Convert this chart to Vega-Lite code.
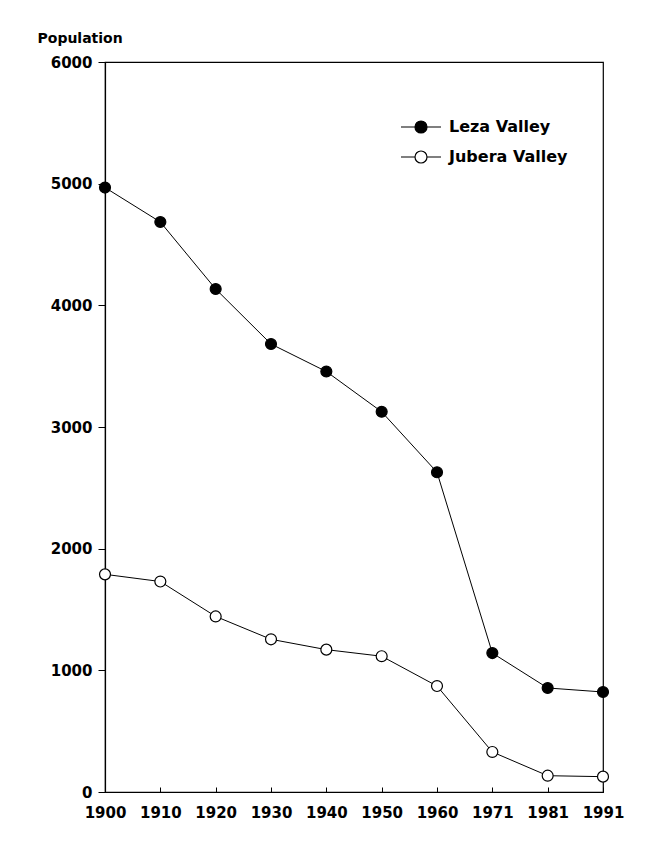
{
  "$schema": "https://vega.github.io/schema/vega-lite/v6.json",
  "width": 498,
  "height": 730,
  "autosize": "none",
  "padding": {"left": 105, "top": 62, "right": 46, "bottom": 65},
  "background": "white",
  "config": {
    "view": {"stroke": "black", "strokeWidth": 1.2},
    "font": "DejaVu Sans",
    "axis": {"grid": false, "domainColor": "black", "tickColor": "black", "labelColor": "black", "titleColor": "black", "labelFont": "DejaVu Sans", "labelFontWeight": "bold", "labelFontSize": 15, "titleFont": "DejaVu Sans", "titleFontWeight": "bold", "titleFontSize": 14, "domainWidth": 1.2, "tickWidth": 1}
  },
  "data": {
    "values": [
      {"year": "1900", "series": "Leza Valley", "pop": 4968},
      {"year": "1910", "series": "Leza Valley", "pop": 4685},
      {"year": "1920", "series": "Leza Valley", "pop": 4134},
      {"year": "1930", "series": "Leza Valley", "pop": 3682},
      {"year": "1940", "series": "Leza Valley", "pop": 3456},
      {"year": "1950", "series": "Leza Valley", "pop": 3125},
      {"year": "1960", "series": "Leza Valley", "pop": 2628},
      {"year": "1971", "series": "Leza Valley", "pop": 1142},
      {"year": "1981", "series": "Leza Valley", "pop": 855},
      {"year": "1991", "series": "Leza Valley", "pop": 822},
      {"year": "1900", "series": "Jubera Valley", "pop": 1789},
      {"year": "1910", "series": "Jubera Valley", "pop": 1730},
      {"year": "1920", "series": "Jubera Valley", "pop": 1443},
      {"year": "1930", "series": "Jubera Valley", "pop": 1255},
      {"year": "1940", "series": "Jubera Valley", "pop": 1170},
      {"year": "1950", "series": "Jubera Valley", "pop": 1116},
      {"year": "1960", "series": "Jubera Valley", "pop": 871},
      {"year": "1971", "series": "Jubera Valley", "pop": 329},
      {"year": "1981", "series": "Jubera Valley", "pop": 134},
      {"year": "1991", "series": "Jubera Valley", "pop": 126}
    ]
  },
  "encoding": {
    "x": {
      "field": "year", "type": "ordinal", "sort": null,
      "scale": {"type": "point", "padding": 0},
      "axis": {"title": null, "labelAngle": 0, "tickSize": -5, "labelPadding": 18, "domain": true}
    },
    "y": {
      "field": "pop", "type": "quantitative",
      "scale": {"domain": [0, 6000], "nice": false},
      "axis": {"values": [0, 1000, 2000, 3000, 4000, 5000, 6000], "format": "d", "tickSize": 7, "labelPadding": 6, "title": "Population", "titleAngle": 0, "titleAlign": "left", "titleBaseline": "alphabetic", "titleX": -68, "titleY": -20}
    }
  },
  "layer": [
    {
      "mark": {"type": "line", "color": "black", "strokeWidth": 1},
      "encoding": {"detail": {"field": "series"}}
    },
    {
      "mark": {"type": "point", "shape": "circle", "filled": true, "size": 120, "stroke": "black", "strokeWidth": 1.2, "opacity": 1},
      "encoding": {
        "fill": {
          "field": "series", "type": "nominal",
          "scale": {"domain": ["Leza Valley", "Jubera Valley"], "range": ["black", "white"]},
          "legend": {
            "title": null,
            "orient": "none",
            "legendX": 295,
            "legendY": 44,
            "symbolType": "M-1,0L-0.32,0M0.32,0L1,0M-0.3,0A0.3,0.3 0 1,1 0.3,0A0.3,0.3 0 1,1 -0.3,0",
            "symbolSize": 1600,
            "symbolStrokeColor": "black",
            "symbolStrokeWidth": 1.2,
            "labelFont": "DejaVu Sans",
            "labelFontWeight": "bold",
            "labelFontSize": 16,
            "labelColor": "black",
            "labelOffset": 7,
            "rowPadding": -16
          }
        }
      }
    }
  ]
}
